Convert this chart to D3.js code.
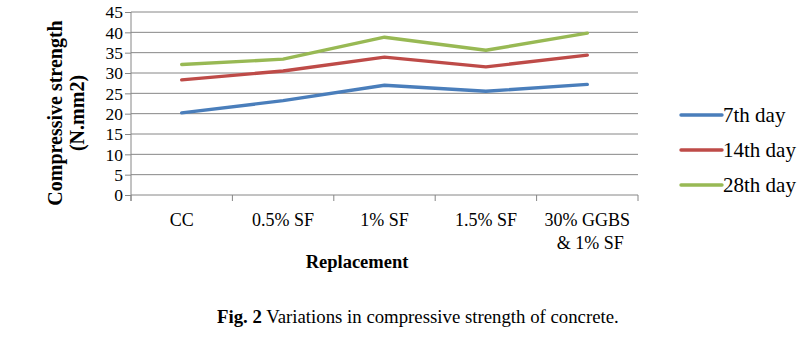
<!DOCTYPE html>
<html>
<head>
<meta charset="utf-8">
<script src="https://cdn.jsdelivr.net/npm/d3@7"></script>
<style>
  body { margin: 0; background: #fff; }
  svg { display: block; }
  svg text { font-family: "Liberation Serif", "Times New Roman", serif; fill: #000; }
</style>
</head>
<body>
<svg id="chart" width="812" height="343"></svg>
<script>
// --- Data ---
const categories = ["CC", "0.5% SF", "1% SF", "1.5% SF", "30% GGBS\n& 1% SF"];
const day7 = [20.2, 23.2, 27.0, 25.5, 27.2];
const day14 = [28.3, 30.5, 33.9, 31.5, 34.4];
const day28 = [32.1, 33.4, 38.8, 35.6, 39.8];
const seriesNames = ["7th day", "14th day", "28th day"];
const seriesColors = ["#4a7ebb", "#be4b48", "#98b954"];
const yTicks = [0, 5, 10, 15, 20, 25, 30, 35, 40, 45];

const series = [day7, day14, day28].map((vals, i) => ({
    name: seriesNames[i],
    color: seriesColors[i],
    values: vals
}));

const svg = d3.select("#chart");
const margin = { top: 12, left: 131, right: 174, bottom: 148 };
const width = 812 - margin.left - margin.right;
const height = 343 - margin.top - margin.bottom;

const g = svg.append("g").attr("transform", `translate(${margin.left},${margin.top})`);

const x = d3.scaleBand().domain(categories).range([0, width]);
const y = d3.scaleLinear().domain([0, 45]).range([height, 0]);

// gridlines
g.append("g")
    .selectAll("line")
    .data(yTicks.filter(d => d > 0))
    .enter().append("line")
    .attr("x1", 0).attr("x2", width)
    .attr("y1", d => y(d)).attr("y2", d => y(d))
    .attr("stroke", "#868686").attr("stroke-width", 1);

// y axis
const yAxis = g.append("g")
    .call(d3.axisLeft(y).tickValues(yTicks).tickSize(6).tickPadding(2));
yAxis.attr("font-family", null).attr("font-size", null);
yAxis.selectAll("text").style("font-size", "17.5px").attr("dy", "0.34em");
yAxis.selectAll(".tick line").attr("stroke", "#868686");
yAxis.select(".domain").attr("stroke", "#868686").attr("d", `M0,${height + 6}V0`);

// x axis baseline
const xAxis = g.append("g")
    .attr("transform", `translate(0,${height})`)
    .call(d3.axisBottom(x).tickSize(0).tickFormat(""));
xAxis.select(".domain").attr("stroke", "#868686").attr("d", `M0,0H${width}`);
xAxis.selectAll(".tick").remove();

// category boundary ticks
const bounds = categories.map(c => x(c)).concat([width]);
g.append("g").selectAll("line")
    .data(bounds)
    .enter().append("line")
    .attr("x1", d => d).attr("x2", d => d)
    .attr("y1", height).attr("y2", height + 6)
    .attr("stroke", "#868686");

// category labels
categories.forEach(c => {
    const lines = c.split("\n");
    const cx = x(c) + x.bandwidth() / 2;
    const t = g.append("text")
        .attr("x", cx)
        .attr("y", height + 31)
        .attr("text-anchor", "middle")
        .style("font-size", "18px");
    lines.forEach((ln, i) => {
        t.append("tspan")
            .attr("x", cx + (i > 0 ? 3 : 0))
            .attr("dy", i === 0 ? 0 : 23)
            .text(ln);
    });
});

// lines
const line = d3.line()
    .x((d, i) => x(categories[i]) + x.bandwidth() / 2)
    .y(d => y(d));

series.forEach(s => {
    g.append("path")
        .datum(s.values)
        .attr("fill", "none")
        .attr("stroke", s.color)
        .attr("stroke-width", 3.4)
        .attr("stroke-linejoin", "round")
        .attr("stroke-linecap", "round")
        .attr("d", line);
});

// axis titles
svg.append("text")
    .attr("transform", "translate(62,113) rotate(-90)")
    .attr("text-anchor", "middle")
    .style("font-size", "20px").style("font-weight", "bold")
    .text("Compressive strength");
svg.append("text")
    .attr("transform", "translate(84,113) rotate(-90)")
    .attr("text-anchor", "middle")
    .style("font-size", "20px").style("font-weight", "bold")
    .text("(N.mm2)");

svg.append("text")
    .attr("x", 357).attr("y", 268)
    .attr("text-anchor", "middle")
    .style("font-size", "18.5px").style("font-weight", "bold")
    .text("Replacement");

// legend
const legend = svg.append("g").attr("transform", "translate(681,115)");
series.forEach((s, i) => {
    const row = legend.append("g").attr("transform", `translate(0,${i * 35})`);
    row.append("line")
        .attr("x1", 0).attr("x2", 41)
        .attr("stroke", s.color).attr("stroke-width", 3.4)
        .attr("stroke-linecap", "round");
    row.append("text")
        .attr("x", 42).attr("y", 7)
        .style("font-size", "21px")
        .text(s.name);
});

// caption
const cap = svg.append("text")
    .attr("x", 217).attr("y", 323)
    .style("font-size", "18.8px");
cap.append("tspan").style("font-weight", "bold").text("Fig. 2");
cap.append("tspan").text(" Variations in compressive strength of concrete.");
</script>
</body>
</html>
